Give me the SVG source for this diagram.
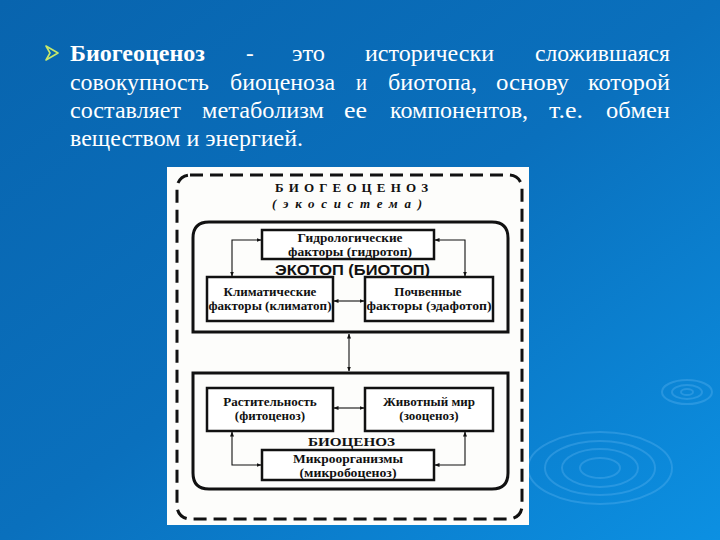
<svg xmlns="http://www.w3.org/2000/svg" width="720" height="540" viewBox="0 0 720 540">
<defs>
<linearGradient id="bg" x1="0" y1="0" x2="1" y2="1">
<stop offset="0" stop-color="#0864ae"/>
<stop offset="0.5" stop-color="#0a70bd"/>
<stop offset="1" stop-color="#0c90e2"/>
</linearGradient>
<marker id="ah" viewBox="0 0 10 10" refX="9" refY="5" markerWidth="5" markerHeight="5" orient="auto-start-reverse" markerUnits="userSpaceOnUse">
<path d="M0,1 L10,5 L0,9 z" fill="#111"/>
</marker>
<style>
.head{font-family:"Liberation Serif","Times New Roman","DejaVu Serif",serif;font-size:23px;fill:#ffffff}
.box{fill:#fff;stroke:#111;stroke-width:2.5}
.bt{font-family:"Liberation Serif","Times New Roman","DejaVu Serif",serif;font-size:13px;font-weight:bold;fill:#111;text-anchor:middle}
.lab{font-family:"Liberation Sans","DejaVu Sans",sans-serif;font-weight:bold;fill:#111;text-anchor:middle}
.con{fill:none;stroke:#111;stroke-width:1.1}
.rip{fill:none;stroke:#5fb4f0;stroke-opacity:0.35;stroke-width:2}
</style>
</defs>
<rect x="0" y="0" width="720" height="540" fill="url(#bg)"/>
<g id="ripples">
<ellipse class="rip" cx="687" cy="392" rx="25" ry="12"/>
<ellipse class="rip" cx="687" cy="392" rx="15" ry="7"/>
<ellipse class="rip" cx="687" cy="392" rx="6" ry="3"/>
<ellipse class="rip" cx="600" cy="468" rx="72" ry="36"/>
<ellipse class="rip" cx="600" cy="468" rx="55" ry="27"/>
<ellipse class="rip" cx="600" cy="468" rx="38" ry="19"/>
<ellipse class="rip" cx="600" cy="468" rx="20" ry="10"/>
</g>
<g id="heading">
<path d="M46,46 L58,53 L46,60 L50,53 z" fill="none" stroke="#c8e86a" stroke-width="1.6" stroke-linejoin="round"/>
<text class="head" x="70" y="61" font-weight="bold" textLength="135" lengthAdjust="spacingAndGlyphs">Биогеоценоз</text>
<text class="head" x="246" y="61">-</text>
<text class="head" x="292" y="61" textLength="33" lengthAdjust="spacingAndGlyphs">это</text>
<text class="head" x="365" y="61" textLength="129" lengthAdjust="spacingAndGlyphs">исторически</text>
<text class="head" x="535" y="61" textLength="135" lengthAdjust="spacingAndGlyphs">сложившаяся</text>
<text class="head" x="70" y="90" textLength="139" lengthAdjust="spacingAndGlyphs">совокупность</text>
<text class="head" x="230" y="90" textLength="105" lengthAdjust="spacingAndGlyphs">биоценоза</text>
<text class="head" x="356" y="90" textLength="11" lengthAdjust="spacingAndGlyphs">и</text>
<text class="head" x="388" y="90" textLength="89" lengthAdjust="spacingAndGlyphs">биотопа,</text>
<text class="head" x="496" y="90" textLength="73" lengthAdjust="spacingAndGlyphs">основу</text>
<text class="head" x="588" y="90" textLength="82" lengthAdjust="spacingAndGlyphs">которой</text>
<text class="head" x="70" y="118" textLength="111" lengthAdjust="spacingAndGlyphs">составляет</text>
<text class="head" x="202" y="118" textLength="122" lengthAdjust="spacingAndGlyphs">метаболизм</text>
<text class="head" x="344" y="118" textLength="23" lengthAdjust="spacingAndGlyphs">ее</text>
<text class="head" x="390" y="118" textLength="138" lengthAdjust="spacingAndGlyphs">компонентов,</text>
<text class="head" x="549" y="118" textLength="34" lengthAdjust="spacingAndGlyphs">т.е.</text>
<text class="head" x="606" y="118" textLength="64" lengthAdjust="spacingAndGlyphs">обмен</text>
<text class="head" x="70" y="146" textLength="233" lengthAdjust="spacingAndGlyphs">веществом и энергией.</text>
</g>
<rect x="167" y="167" width="362" height="358" fill="#fdfdfb"/>
<g id="ecosystem">
<rect x="177" y="175" width="345" height="344" rx="13" fill="none" stroke="#111" stroke-width="3" stroke-dasharray="13,7"/>
<text class="bt" x="275" y="192" style="text-anchor:start" font-size="13" textLength="153" lengthAdjust="spacing">БИОГЕОЦЕНОЗ</text>
<text class="bt" x="272" y="208" style="text-anchor:start" font-size="12" font-style="italic" textLength="150" lengthAdjust="spacing">(экосистема)</text>
</g>
<g id="ecotope">
<path d="M193,332 L193,238 Q193,222 209,222 L492,222 Q508,222 508,238 L508,332 Z" fill="none" stroke="#111" stroke-width="3"/>
<text class="lab" x="275" y="275" style="text-anchor:start" font-size="14.5" textLength="155" lengthAdjust="spacingAndGlyphs">ЭКОТОП (БИОТОП)</text>
</g>
<g id="hydro">
<rect class="box" x="262" y="230" width="172" height="29"/>
<text class="bt" x="350" y="242" font-size="12" textLength="105" lengthAdjust="spacingAndGlyphs">Гидрологические</text>
<text class="bt" x="350" y="256" font-size="12" textLength="124" lengthAdjust="spacingAndGlyphs">факторы (гидротоп)</text>
</g>
<g id="climate">
<rect class="box" x="207" y="277" width="126" height="44"/>
<text class="bt" x="270" y="296">Климатические</text>
<text class="bt" x="270" y="310" textLength="123" lengthAdjust="spacingAndGlyphs">факторы (климатоп)</text>
</g>
<g id="soil">
<rect class="box" x="365" y="277" width="128" height="44"/>
<text class="bt" x="428" y="296">Почвенные</text>
<text class="bt" x="429" y="310" textLength="125" lengthAdjust="spacingAndGlyphs">факторы (эдафотоп)</text>
</g>
<g id="biocenosis">
<path d="M193,373 L193,473 Q193,489 209,489 L492,489 Q508,489 508,473 L508,373 Z" fill="none" stroke="#111" stroke-width="3"/>
<text class="bt" x="308" y="446" style="text-anchor:start" font-size="16" textLength="87" lengthAdjust="spacingAndGlyphs">БИОЦЕНОЗ</text>
</g>
<g id="plants">
<rect class="box" x="207" y="388" width="126" height="43"/>
<text class="bt" x="270" y="406">Растительность</text>
<text class="bt" x="270" y="420">(фитоценоз)</text>
</g>
<g id="animals">
<rect class="box" x="365" y="388" width="128" height="43"/>
<text class="bt" x="429" y="406">Животный мир</text>
<text class="bt" x="429" y="420">(зооценоз)</text>
</g>
<g id="microbes">
<rect class="box" x="262" y="450" width="172" height="30"/>
<text class="bt" x="348" y="462.5" font-size="12.5" textLength="110" lengthAdjust="spacingAndGlyphs">Микроорганизмы</text>
<text class="bt" x="348" y="476.5" font-size="12.5" textLength="97" lengthAdjust="spacingAndGlyphs">(микробоценоз)</text>
</g>
<g id="connectors">
<path class="con" d="M261,240 L232,240 L232,276" marker-start="url(#ah)" marker-end="url(#ah)"/>
<path class="con" d="M435,240 L465,240 L465,276" marker-start="url(#ah)" marker-end="url(#ah)"/>
<path class="con" d="M334,301 L364,301" marker-start="url(#ah)" marker-end="url(#ah)"/>
<path class="con" d="M349,334 L349,371" marker-start="url(#ah)" marker-end="url(#ah)"/>
<path class="con" d="M334,408 L364,408" marker-start="url(#ah)" marker-end="url(#ah)"/>
<path class="con" d="M232,432 L232,465 L261,465" marker-start="url(#ah)" marker-end="url(#ah)"/>
<path class="con" d="M465,432 L465,465 L435,465" marker-start="url(#ah)" marker-end="url(#ah)"/>
</g>
</svg>
